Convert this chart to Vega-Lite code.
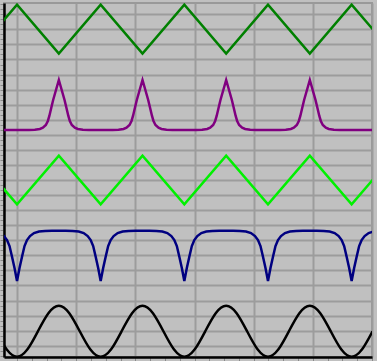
{
  "$schema": "https://vega.github.io/schema/vega-lite/v6.json",
  "width": 368,
  "height": 354,
  "autosize": {"type": "none"},
  "padding": {"left": 4, "top": 3, "right": 5, "bottom": 4},
  "background": "#c0c0c0",
  "config": {
    "view": {"stroke": "#999999", "strokeWidth": 2, "fill": "#c0c0c0"},
    "axis": {"domainColor": "#000000", "domainWidth": 2.5, "labels": false, "title": null, "tickColor": "#8a8a8a", "tickWidth": 1, "tickSize": 4, "gridColor": "#9c9c9c", "gridWidth": 2}
  },
  "datasets": {
    "waves": [
      {"s": "a", "t": -0.707, "v": 19.40}, {"s": "a", "t": 0, "v": 22.64}, {"s": "a", "t": 0.707, "v": 19.40}, {"s": "a", "t": 1.414, "v": 22.64}, {"s": "a", "t": 2.121, "v": 19.40}, {"s": "a", "t": 2.828, "v": 22.64}, {"s": "a", "t": 3.535, "v": 19.40}, {"s": "a", "t": 4.242, "v": 22.64}, {"s": "a", "t": 4.949, "v": 19.40}, {"s": "a", "t": 5.656, "v": 22.64}, {"s": "a", "t": 6.363, "v": 19.40},
      {"s": "c", "t": -0.707, "v": 12.61}, {"s": "c", "t": 0, "v": 9.383}, {"s": "c", "t": 0.707, "v": 12.61}, {"s": "c", "t": 1.414, "v": 9.383}, {"s": "c", "t": 2.121, "v": 12.61}, {"s": "c", "t": 2.828, "v": 9.383}, {"s": "c", "t": 3.535, "v": 12.61}, {"s": "c", "t": 4.242, "v": 9.383}, {"s": "c", "t": 4.949, "v": 12.61}, {"s": "c", "t": 5.656, "v": 9.383}, {"s": "c", "t": 6.363, "v": 12.61},
      {"s": "b", "t": -0.3, "v": 14.32},
      {"s": "b", "t": 0.2002, "v": 14.32}, {"s": "b", "t": 0.3016, "v": 14.33}, {"s": "b", "t": 0.3861, "v": 14.39}, {"s": "b", "t": 0.4367, "v": 14.47}, {"s": "b", "t": 0.4874, "v": 14.65}, {"s": "b", "t": 0.5212, "v": 14.92}, {"s": "b", "t": 0.5465, "v": 15.25}, {"s": "b", "t": 0.5803, "v": 15.81}, {"s": "b", "t": 0.6107, "v": 16.31}, {"s": "b", "t": 0.6563, "v": 16.94}, {"s": "b", "t": 0.707, "v": 17.64}, {"s": "b", "t": 0.7577, "v": 16.94}, {"s": "b", "t": 0.8033, "v": 16.31}, {"s": "b", "t": 0.8337, "v": 15.81}, {"s": "b", "t": 0.8675, "v": 15.25}, {"s": "b", "t": 0.8928, "v": 14.92}, {"s": "b", "t": 0.9266, "v": 14.65}, {"s": "b", "t": 0.9773, "v": 14.47}, {"s": "b", "t": 1.0279, "v": 14.39}, {"s": "b", "t": 1.1124, "v": 14.33}, {"s": "b", "t": 1.2138, "v": 14.32},
      {"s": "b", "t": 1.6142, "v": 14.32}, {"s": "b", "t": 1.7156, "v": 14.33}, {"s": "b", "t": 1.8001, "v": 14.39}, {"s": "b", "t": 1.8507, "v": 14.47}, {"s": "b", "t": 1.9014, "v": 14.65}, {"s": "b", "t": 1.9352, "v": 14.92}, {"s": "b", "t": 1.9605, "v": 15.25}, {"s": "b", "t": 1.9943, "v": 15.81}, {"s": "b", "t": 2.0247, "v": 16.31}, {"s": "b", "t": 2.0703, "v": 16.94}, {"s": "b", "t": 2.121, "v": 17.64}, {"s": "b", "t": 2.1717, "v": 16.94}, {"s": "b", "t": 2.2173, "v": 16.31}, {"s": "b", "t": 2.2477, "v": 15.81}, {"s": "b", "t": 2.2815, "v": 15.25}, {"s": "b", "t": 2.3068, "v": 14.92}, {"s": "b", "t": 2.3406, "v": 14.65}, {"s": "b", "t": 2.3913, "v": 14.47}, {"s": "b", "t": 2.4419, "v": 14.39}, {"s": "b", "t": 2.5264, "v": 14.33}, {"s": "b", "t": 2.6278, "v": 14.32},
      {"s": "b", "t": 3.0282, "v": 14.32}, {"s": "b", "t": 3.1296, "v": 14.33}, {"s": "b", "t": 3.2141, "v": 14.39}, {"s": "b", "t": 3.2647, "v": 14.47}, {"s": "b", "t": 3.3154, "v": 14.65}, {"s": "b", "t": 3.3492, "v": 14.92}, {"s": "b", "t": 3.3745, "v": 15.25}, {"s": "b", "t": 3.4083, "v": 15.81}, {"s": "b", "t": 3.4387, "v": 16.31}, {"s": "b", "t": 3.4843, "v": 16.94}, {"s": "b", "t": 3.535, "v": 17.64}, {"s": "b", "t": 3.5857, "v": 16.94}, {"s": "b", "t": 3.6313, "v": 16.31}, {"s": "b", "t": 3.6617, "v": 15.81}, {"s": "b", "t": 3.6955, "v": 15.25}, {"s": "b", "t": 3.7208, "v": 14.92}, {"s": "b", "t": 3.7546, "v": 14.65}, {"s": "b", "t": 3.8053, "v": 14.47}, {"s": "b", "t": 3.8559, "v": 14.39}, {"s": "b", "t": 3.9404, "v": 14.33}, {"s": "b", "t": 4.0418, "v": 14.32},
      {"s": "b", "t": 4.4422, "v": 14.32}, {"s": "b", "t": 4.5436, "v": 14.33}, {"s": "b", "t": 4.6281, "v": 14.39}, {"s": "b", "t": 4.6787, "v": 14.47}, {"s": "b", "t": 4.7294, "v": 14.65}, {"s": "b", "t": 4.7632, "v": 14.92}, {"s": "b", "t": 4.7885, "v": 15.25}, {"s": "b", "t": 4.8223, "v": 15.81}, {"s": "b", "t": 4.8527, "v": 16.31}, {"s": "b", "t": 4.8983, "v": 16.94}, {"s": "b", "t": 4.949, "v": 17.64}, {"s": "b", "t": 4.9997, "v": 16.94}, {"s": "b", "t": 5.0453, "v": 16.31}, {"s": "b", "t": 5.0757, "v": 15.81}, {"s": "b", "t": 5.1095, "v": 15.25}, {"s": "b", "t": 5.1348, "v": 14.92}, {"s": "b", "t": 5.1686, "v": 14.65}, {"s": "b", "t": 5.2193, "v": 14.47}, {"s": "b", "t": 5.2699, "v": 14.39}, {"s": "b", "t": 5.3544, "v": 14.33}, {"s": "b", "t": 5.4558, "v": 14.32},
      {"s": "b", "t": 6.1, "v": 14.32},
      {"s": "d", "t": -0.5912, "v": 7.630}, {"s": "d", "t": -0.473, "v": 7.617}, {"s": "d", "t": -0.3716, "v": 7.577}, {"s": "d", "t": -0.2872, "v": 7.478}, {"s": "d", "t": -0.2196, "v": 7.279}, {"s": "d", "t": -0.1689, "v": 7.013}, {"s": "d", "t": -0.1267, "v": 6.615}, {"s": "d", "t": -0.0845, "v": 5.904}, {"s": "d", "t": -0.0422, "v": 5.154}, {"s": "d", "t": 0, "v": 4.291}, {"s": "d", "t": 0.0422, "v": 5.154}, {"s": "d", "t": 0.0845, "v": 5.904}, {"s": "d", "t": 0.1267, "v": 6.615}, {"s": "d", "t": 0.1689, "v": 7.013}, {"s": "d", "t": 0.2196, "v": 7.279}, {"s": "d", "t": 0.2872, "v": 7.478}, {"s": "d", "t": 0.3716, "v": 7.577}, {"s": "d", "t": 0.473, "v": 7.617}, {"s": "d", "t": 0.5912, "v": 7.630},
      {"s": "d", "t": 0.8228, "v": 7.630}, {"s": "d", "t": 0.941, "v": 7.617}, {"s": "d", "t": 1.0424, "v": 7.577}, {"s": "d", "t": 1.1268, "v": 7.478}, {"s": "d", "t": 1.1944, "v": 7.279}, {"s": "d", "t": 1.2451, "v": 7.013}, {"s": "d", "t": 1.2873, "v": 6.615}, {"s": "d", "t": 1.3295, "v": 5.904}, {"s": "d", "t": 1.3718, "v": 5.154}, {"s": "d", "t": 1.414, "v": 4.291}, {"s": "d", "t": 1.4562, "v": 5.154}, {"s": "d", "t": 1.4985, "v": 5.904}, {"s": "d", "t": 1.5407, "v": 6.615}, {"s": "d", "t": 1.5829, "v": 7.013}, {"s": "d", "t": 1.6336, "v": 7.279}, {"s": "d", "t": 1.7012, "v": 7.478}, {"s": "d", "t": 1.7856, "v": 7.577}, {"s": "d", "t": 1.887, "v": 7.617}, {"s": "d", "t": 2.0052, "v": 7.630},
      {"s": "d", "t": 2.2368, "v": 7.630}, {"s": "d", "t": 2.355, "v": 7.617}, {"s": "d", "t": 2.4564, "v": 7.577}, {"s": "d", "t": 2.5408, "v": 7.478}, {"s": "d", "t": 2.6084, "v": 7.279}, {"s": "d", "t": 2.6591, "v": 7.013}, {"s": "d", "t": 2.7013, "v": 6.615}, {"s": "d", "t": 2.7435, "v": 5.904}, {"s": "d", "t": 2.7858, "v": 5.154}, {"s": "d", "t": 2.828, "v": 4.291}, {"s": "d", "t": 2.8702, "v": 5.154}, {"s": "d", "t": 2.9125, "v": 5.904}, {"s": "d", "t": 2.9547, "v": 6.615}, {"s": "d", "t": 2.9969, "v": 7.013}, {"s": "d", "t": 3.0476, "v": 7.279}, {"s": "d", "t": 3.1152, "v": 7.478}, {"s": "d", "t": 3.1996, "v": 7.577}, {"s": "d", "t": 3.301, "v": 7.617}, {"s": "d", "t": 3.4192, "v": 7.630},
      {"s": "d", "t": 3.6508, "v": 7.630}, {"s": "d", "t": 3.769, "v": 7.617}, {"s": "d", "t": 3.8704, "v": 7.577}, {"s": "d", "t": 3.9548, "v": 7.478}, {"s": "d", "t": 4.0224, "v": 7.279}, {"s": "d", "t": 4.0731, "v": 7.013}, {"s": "d", "t": 4.1153, "v": 6.615}, {"s": "d", "t": 4.1575, "v": 5.904}, {"s": "d", "t": 4.1998, "v": 5.154}, {"s": "d", "t": 4.242, "v": 4.291}, {"s": "d", "t": 4.2842, "v": 5.154}, {"s": "d", "t": 4.3265, "v": 5.904}, {"s": "d", "t": 4.3687, "v": 6.615}, {"s": "d", "t": 4.4109, "v": 7.013}, {"s": "d", "t": 4.4616, "v": 7.279}, {"s": "d", "t": 4.5292, "v": 7.478}, {"s": "d", "t": 4.6136, "v": 7.577}, {"s": "d", "t": 4.715, "v": 7.617}, {"s": "d", "t": 4.8332, "v": 7.630},
      {"s": "d", "t": 5.0648, "v": 7.630}, {"s": "d", "t": 5.183, "v": 7.617}, {"s": "d", "t": 5.2844, "v": 7.577}, {"s": "d", "t": 5.3688, "v": 7.478}, {"s": "d", "t": 5.4364, "v": 7.279}, {"s": "d", "t": 5.4871, "v": 7.013}, {"s": "d", "t": 5.5293, "v": 6.615}, {"s": "d", "t": 5.5715, "v": 5.904}, {"s": "d", "t": 5.6138, "v": 5.154}, {"s": "d", "t": 5.656, "v": 4.291}, {"s": "d", "t": 5.6982, "v": 5.154}, {"s": "d", "t": 5.7405, "v": 5.904}, {"s": "d", "t": 5.7827, "v": 6.615}, {"s": "d", "t": 5.8249, "v": 7.013}, {"s": "d", "t": 5.8756, "v": 7.279}, {"s": "d", "t": 5.9432, "v": 7.478}, {"s": "d", "t": 6.0276, "v": 7.577}, {"s": "d", "t": 6.129, "v": 7.617}
    ],
    "sine": [
      {"t": -0.3535, "v": 0.957}, {"t": -0.1768, "v": -0.240}, {"t": 0, "v": -0.736}, {"t": 0.1768, "v": -0.240}, {"t": 0.3535, "v": 0.957}, {"t": 0.5303, "v": 2.154}, {"t": 0.707, "v": 2.65}, {"t": 0.8838, "v": 2.154}, {"t": 1.0605, "v": 0.957}, {"t": 1.2373, "v": -0.240},
      {"t": 1.414, "v": -0.736}, {"t": 1.5908, "v": -0.240}, {"t": 1.7675, "v": 0.957}, {"t": 1.9443, "v": 2.154}, {"t": 2.121, "v": 2.65}, {"t": 2.2978, "v": 2.154}, {"t": 2.4745, "v": 0.957}, {"t": 2.6513, "v": -0.240},
      {"t": 2.828, "v": -0.736}, {"t": 3.0048, "v": -0.240}, {"t": 3.1815, "v": 0.957}, {"t": 3.3583, "v": 2.154}, {"t": 3.535, "v": 2.65}, {"t": 3.7118, "v": 2.154}, {"t": 3.8885, "v": 0.957}, {"t": 4.0653, "v": -0.240},
      {"t": 4.242, "v": -0.736}, {"t": 4.4188, "v": -0.240}, {"t": 4.5955, "v": 0.957}, {"t": 4.7723, "v": 2.154}, {"t": 4.949, "v": 2.65}, {"t": 5.1258, "v": 2.154}, {"t": 5.3025, "v": 0.957}, {"t": 5.4793, "v": -0.240},
      {"t": 5.656, "v": -0.736}, {"t": 5.8328, "v": -0.240}, {"t": 6.0095, "v": 0.957}
    ]
  },
  "encoding": {
    "x": {
      "field": "t", "type": "quantitative",
      "scale": {"domain": [-0.22, 6], "nice": false, "zero": false},
      "axis": {
        "values": [0, 0.25, 0.5, 0.75, 1, 1.25, 1.5, 1.75, 2, 2.25, 2.5, 2.75, 3, 3.25, 3.5, 3.75, 4, 4.25, 4.5, 4.75, 5, 5.25, 5.5, 5.75, 6],
        "grid": true,
        "gridOpacity": {"condition": {"test": "abs(datum.value - round(datum.value)) < 0.01", "value": 1}, "value": 0}
      }
    },
    "y": {
      "field": "v", "type": "quantitative",
      "scale": {"domain": [-0.75, 22.75], "nice": false, "zero": false},
      "axis": {
        "values": [-0.6667, -0.3333, 0, 0.3333, 0.6667, 1, 1.3333, 1.6667, 2, 2.3333, 2.6667, 3, 3.3333, 3.6667, 4, 4.3333, 4.6667, 5, 5.3333, 5.6667, 6, 6.3333, 6.6667, 7, 7.3333, 7.6667, 8, 8.3333, 8.6667, 9, 9.3333, 9.6667, 10, 10.3333, 10.6667, 11, 11.3333, 11.6667, 12, 12.3333, 12.6667, 13, 13.3333, 13.6667, 14, 14.3333, 14.6667, 15, 15.3333, 15.6667, 16, 16.3333, 16.6667, 17, 17.3333, 17.6667, 18, 18.3333, 18.6667, 19, 19.3333, 19.6667, 20, 20.3333, 20.6667, 21, 21.3333, 21.6667, 22, 22.3333, 22.6667],
        "grid": true,
        "gridOpacity": {"condition": {"test": "abs(datum.value - round(datum.value)) < 0.01", "value": 1}, "value": 0}
      }
    }
  },
  "layer": [
    {
      "data": {"name": "waves"},
      "mark": {"type": "line", "strokeWidth": 2.5, "clip": true},
      "encoding": {
        "color": {"field": "s", "type": "nominal", "legend": null,
          "scale": {"domain": ["a", "b", "c", "d"], "range": ["#008000", "#800080", "#00f000", "#000080"]}},
        "detail": {"field": "s"}
      }
    },
    {
      "data": {"name": "sine"},
      "mark": {"type": "line", "strokeWidth": 2.5, "color": "#000000", "interpolate": "natural", "clip": true},
      "encoding": {}
    }
  ]
}
